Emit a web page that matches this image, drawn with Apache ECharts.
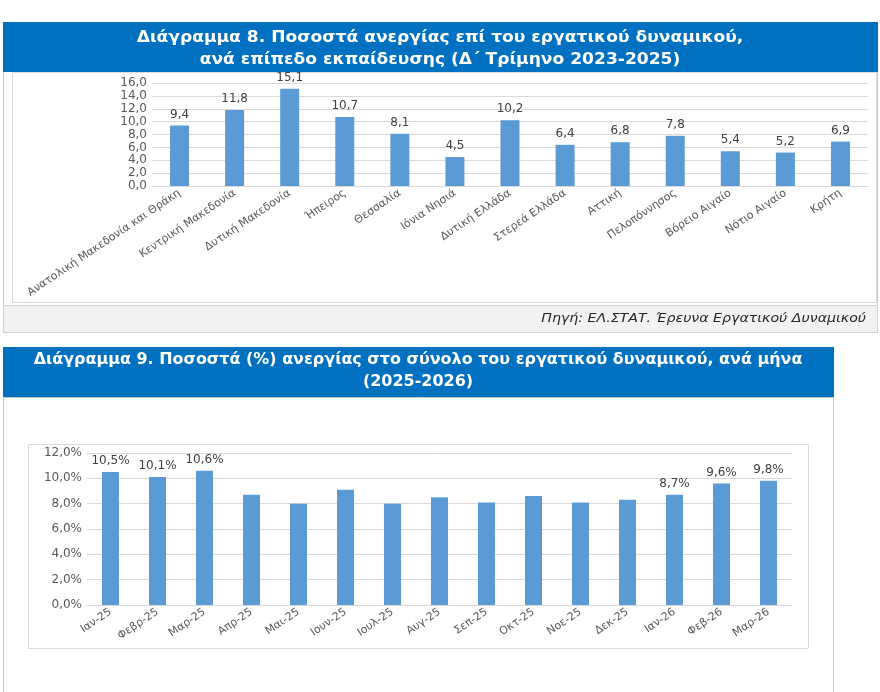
<!DOCTYPE html>
<html><head><meta charset="utf-8">
<script src="https://cdn.jsdelivr.net/npm/echarts@6/dist/echarts.min.js"></script>
<style>html,body{margin:0;padding:0;background:#fff}#c{width:880px;height:692px}</style>
</head><body><div id="c"></div>
<script>
// ---- Chart 8 data ----
const title8 = ['Διάγραμμα 8. Ποσοστά ανεργίας επί του εργατικού δυναμικού,', 'ανά επίπεδο εκπαίδευσης (Δ΄ Τρίμηνο 2023-2025)'];
const regions = ['Ανατολική Μακεδονία και Θράκη','Κεντρική Μακεδονία','Δυτική Μακεδονία','Ήπειρος','Θεσσαλία','Ιόνια Νησιά','Δυτική Ελλάδα','Στερεά Ελλάδα','Αττική','Πελοπόννησος','Βόρειο Αιγαίο','Νότιο Αιγαίο','Κρήτη'];
const regionRates = [9.4, 11.8, 15.1, 10.7, 8.1, 4.5, 10.2, 6.4, 6.8, 7.8, 5.4, 5.2, 6.9];
const source8 = 'Πηγή: ΕΛ.ΣΤΑΤ. Έρευνα Εργατικού Δυναμικού';
// ---- Chart 9 data ----
const title9 = ['Διάγραμμα 9. Ποσοστά (%) ανεργίας στο σύνολο του εργατικού δυναμικού, ανά μήνα', '(2025-2026)'];
const months = ['Ιαν-25','Φεβρ-25','Μαρ-25','Απρ-25','Μαι-25','Ιουν-25','Ιουλ-25','Αυγ-25','Σεπ-25','Οκτ-25','Νοε-25','Δεκ-25','Ιαν-26','Φεβ-26','Μαρ-26'];
const monthRates = [10.5, 10.1, 10.6, 8.7, 8.0, 9.1, 8.0, 8.5, 8.1, 8.6, 8.1, 8.3, 8.7, 9.6, 9.8];
const monthLabelled = [true, true, true, false, false, false, false, false, false, false, false, false, true, true, true];

const FONT = '"DejaVu Sans", Verdana, sans-serif';
const fmt1 = v => Number(v).toFixed(1).replace('.', ',');

const chart = echarts.init(document.getElementById('c'), null, {renderer: 'canvas'});

function txt(text, x, y, font, fill, align, sx) {
  return {type: 'text', z: 10, x: x, y: y, scaleX: sx, scaleY: 1,
    style: {text, x: 0, y: 0, font, fill, textAlign: align, align: align, textVerticalAlign: 'middle', verticalAlign: 'middle'}};
}

const option = {
  animation: false,
  backgroundColor: '#ffffff',
  graphic: [
    {type: 'rect', z: -5, shape: {x: 3.5, y: 22.5, width: 874, height: 310}, style: {fill: '#ffffff', stroke: '#c8c8c8', lineWidth: 1}},
    {type: 'rect', z: -4, shape: {x: 12.5, y: 72.5, width: 864, height: 230}, style: {fill: '#ffffff', stroke: '#d9d9d9', lineWidth: 1}},
    {type: 'rect', z: -4, shape: {x: 3.5, y: 305.5, width: 874, height: 27}, style: {fill: '#f2f2f2', stroke: '#d0d0d0', lineWidth: 1}},
    {type: 'rect', z: -3, shape: {x: 3, y: 22, width: 875, height: 50}, style: {fill: '#0070c0'}},
    {type: 'rect', z: -5, shape: {x: 3.5, y: 397.5, width: 830, height: 300}, style: {fill: '#ffffff', stroke: '#c8c8c8', lineWidth: 1}},
    {type: 'rect', z: -4, shape: {x: 28.5, y: 444.5, width: 780, height: 204}, style: {fill: '#ffffff', stroke: '#d9d9d9', lineWidth: 1}},
    {type: 'rect', z: -3, shape: {x: 3, y: 347, width: 831, height: 50}, style: {fill: '#0070c0'}},
    txt(title8[0], 440, 38, 'bold 15px ' + FONT, '#ffffff', 'center', 1.14),
    txt(title8[1], 440, 60, 'bold 15px ' + FONT, '#ffffff', 'center', 1.14),
    txt(source8, 866, 319, 'italic 13px ' + FONT, '#262626', 'right', 1.09),
    txt(title9[0], 418, 360, 'bold 15px ' + FONT, '#ffffff', 'center', 1.064),
    txt(title9[1], 418, 382, 'bold 15px ' + FONT, '#ffffff', 'center', 1.064)
  ],
  grid: [
    {left: 152, right: 12, top: 83, height: 103, containLabel: false},
    {left: 87, right: 88, top: 453, height: 152, containLabel: false}
  ],
  xAxis: [
    {type: 'category', gridIndex: 0, data: regions,
     axisLine: {lineStyle: {color: '#d9d9d9'}}, axisTick: {show: false},
     axisLabel: {interval: 0, rotate: 34, color: '#595959', fontSize: 11, fontFamily: FONT, margin: 6}},
    {type: 'category', gridIndex: 1, data: months,
     axisLine: {lineStyle: {color: '#d9d9d9'}}, axisTick: {show: false},
     axisLabel: {interval: 0, rotate: 34, color: '#595959', fontSize: 11, fontFamily: FONT, margin: 6}}
  ],
  yAxis: [
    {type: 'value', gridIndex: 0, min: 0, max: 16, interval: 2,
     axisLine: {show: false}, axisTick: {show: false},
     splitLine: {lineStyle: {color: '#d9d9d9'}},
     axisLabel: {color: '#595959', fontSize: 12, fontFamily: FONT, margin: 5, formatter: v => fmt1(v)}},
    {type: 'value', gridIndex: 1, min: 0, max: 12, interval: 2,
     axisLine: {show: false}, axisTick: {show: false},
     splitLine: {lineStyle: {color: '#d9d9d9'}},
     axisLabel: {color: '#595959', fontSize: 12, fontFamily: FONT, margin: 5, formatter: v => fmt1(v) + '%'}}
  ],
  series: [
    {type: 'bar', xAxisIndex: 0, yAxisIndex: 0, data: regionRates, barWidth: 19,
     itemStyle: {color: '#5b9bd5'},
     label: {show: true, position: 'top', distance: 5, color: '#404040', fontSize: 12, fontFamily: FONT, formatter: p => fmt1(p.value)}},
    {type: 'bar', xAxisIndex: 1, yAxisIndex: 1, barWidth: 17,
     data: monthRates.map((v, i) => ({value: v, label: {show: monthLabelled[i]}})),
     itemStyle: {color: '#5b9bd5'},
     label: {position: 'top', distance: 5, color: '#404040', fontSize: 12, fontFamily: FONT, formatter: p => fmt1(p.value) + '%'}}
  ]
};
chart.setOption(option);
</script></body></html>
